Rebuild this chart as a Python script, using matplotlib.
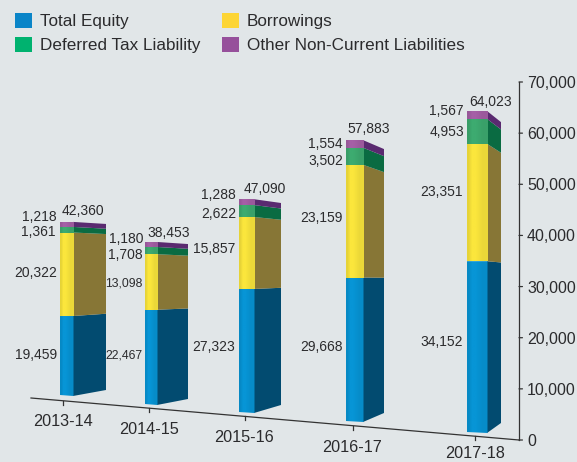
import numpy as np
import matplotlib
matplotlib.use("Agg")
import matplotlib.pyplot as plt
from matplotlib.patches import Patch, Polygon

plt.rcParams['font.family'] = ['Liberation Sans', 'DejaVu Sans']

# Data
YEARS = ["2013-14", "2014-15", "2015-16", "2016-17", "2017-18"]
SERIES = ["Total Equity", "Borrowings", "Deferred Tax Liability", "Other Non-Current Liabilities"]
TOTAL_EQUITY = [19459, 22467, 27323, 29668, 34152]
BORROWINGS = [20322, 13098, 15857, 23159, 23351]
DEFERRED_TAX = [1361, 1708, 2622, 3502, 4953]
OTHER_LIAB = [1218, 1180, 1288, 1554, 1567]
TOTALS = [42360, 38453, 47090, 57883, 64023]
AXIS_TICKS = [0, 10000, 20000, 30000, 40000, 50000, 60000, 70000]

# Colours: legend, front face, side face
LEGEND_COLORS = ["#0a85c8", "#fdd535", "#00b26f", "#96509b"]
FRONT_COLORS = ["#0795d6", "#fbe63c", "#3dab70", "#a55fa6"]
SIDE_COLORS = ["#024b70", "#877636", "#0a6b42", "#5a2a70"]
BG = "#e1e6e8"
TEXT = "#2b2b2d"

# Perspective layout in pixels, one entry per bar
LEFT_X = [60, 145, 239, 346, 467]
MID_X = [73, 157, 254, 363, 487]
RIGHT_X = [106, 188, 281, 384, 501]
FRONT_BASE = [396, 405, 413, 422, 433]
SIDE_BASE = [390, 399, 405, 413, 423]
FRONT_SCALE = [0.00411, 0.00424, 0.00454, 0.00487, 0.00503]
SIDE_SCALE = [0.00392, 0.00403, 0.00429, 0.00456, 0.00470]

# Value label anchors (right edge, centre y), bottom segment first
LABEL_X = [[57, 57, 56, 57], [143, 143, 143, 143], [235, 235, 236, 236],
           [343, 343, 343, 343], [463, 463, 464, 464]]
LABEL_Y = [[355, 273, 232, 217], [355, 283, 255, 239], [347, 249, 214, 195],
           [347, 218, 161, 144], [342, 192, 132, 111]]
# The two labels squeezed in between the first and second bar
LABEL_SIZE = [[10, 10, 10, 10], [8.8, 8.8, 10, 10], [10, 10, 10, 10],
              [10, 10, 10, 10], [10, 10, 10, 10]]
TOTAL_XY = [(83, 211), (169, 233), (265, 189), (369, 129), (491, 102)]
YEAR_XY = [(63, 422), (149, 429), (244, 438), (352, 447), (475, 454)]
TICK_X = [63, 149, 245, 353, 475]
FLOOR = (31, 398, 519, 440)


def face_gradient(color):
    # Front faces are brightest a little left of centre
    rgb = np.array(matplotlib.colors.to_rgb(color))
    shade = np.array([0.92, 1.0, 1.0, 0.97, 0.94, 0.94])
    return np.clip(shade[:, None] * rgb, 0, 1)[None, :, :]


fig = plt.figure(figsize=(5.77, 4.62), dpi=100, facecolor=BG)
ax = fig.add_axes([0, 0, 1, 1])
ax.set_axis_off()

stacks = np.array([TOTAL_EQUITY, BORROWINGS, DEFERRED_TAX, OTHER_LIAB])
tops = np.cumsum(stacks, axis=0)
bottoms = tops - stacks

for i in range(len(YEARS)):
    for s in range(len(SERIES)):
        f0 = FRONT_BASE[i] - FRONT_SCALE[i] * bottoms[s][i]
        f1 = FRONT_BASE[i] - FRONT_SCALE[i] * tops[s][i]
        r0 = SIDE_BASE[i] - SIDE_SCALE[i] * bottoms[s][i]
        r1 = SIDE_BASE[i] - SIDE_SCALE[i] * tops[s][i]

        side = Polygon([(MID_X[i], f0), (RIGHT_X[i], r0), (RIGHT_X[i], r1), (MID_X[i], f1)],
                       closed=True, facecolor=SIDE_COLORS[s], edgecolor='none', zorder=2)
        ax.add_patch(side)

        front = Polygon([(LEFT_X[i], f0 - (1 if s == 0 else 0)), (MID_X[i] + 0.5, f0),
                         (MID_X[i] + 0.5, f1), (LEFT_X[i], f1)],
                        closed=True, facecolor='none', edgecolor='none', zorder=3)
        ax.add_patch(front)
        im = ax.imshow(face_gradient(FRONT_COLORS[s]), extent=(LEFT_X[i], MID_X[i] + 0.5, f0, f1),
                       aspect='auto', interpolation='bilinear', zorder=3)
        im.set_clip_path(front)

    for s in range(len(SERIES)):
        ax.text(LABEL_X[i][s], LABEL_Y[i][s], f"{stacks[s][i]:,}", ha='right', va='center',
                fontsize=LABEL_SIZE[i][s], color=TEXT, zorder=5)
    ax.text(TOTAL_XY[i][0], TOTAL_XY[i][1], f"{TOTALS[i]:,}", ha='center', va='center',
            fontsize=10, color=TEXT)
    ax.text(YEAR_XY[i][0], YEAR_XY[i][1], YEARS[i], ha='center', va='center',
            fontsize=11.7, color=TEXT, clip_on=False)

# Slanted floor line with its ticks
x0, y0, x1, y1 = FLOOR
ax.plot([x0, x1], [y0, y1], color="#333333", lw=0.9, zorder=1)
for tx in TICK_X:
    ty = y0 + (y1 - y0) * (tx - x0) / (x1 - x0)
    ax.plot([tx, tx], [ty, ty + 4], color="#333333", lw=0.9, zorder=1)

ax.set_xlim(0, 577)
ax.set_ylim(462, 0)

handles = [Patch(facecolor=c, edgecolor='none') for c in LEGEND_COLORS]
order = [0, 2, 1, 3]
ax.legend([handles[k] for k in order], [SERIES[k] for k in order], ncol=2, frameon=False,
          loc='upper left', bbox_to_anchor=(15 / 577, 1 - 13 / 462), borderaxespad=0, borderpad=0,
          fontsize=12.3, labelcolor=TEXT, handlelength=1.0, handleheight=1.0,
          handletextpad=0.47, columnspacing=1.25, labelspacing=0.42)

# Value axis on the right
val_ax = fig.add_axes([519 / 577, 22 / 462, 0.05, 358 / 462], facecolor='none')
val_ax.set_ylim(0, 70000)
val_ax.set_xticks([])
for side_name in ['right', 'top', 'bottom']:
    val_ax.spines[side_name].set_visible(False)
val_ax.spines['left'].set_color("#333333")
val_ax.spines['left'].set_linewidth(0.9)
val_ax.yaxis.set_ticks_position('left')
val_ax.set_yticks(AXIS_TICKS)
val_ax.set_yticklabels([f"{t:,}" for t in AXIS_TICKS], fontsize=11.5, color=TEXT, ha='left')
val_ax.tick_params(axis='y', direction='out', length=0, pad=-5.8)
for t in AXIS_TICKS:
    val_ax.annotate('', xy=(0, t), xycoords=('axes fraction', 'data'), xytext=(2.5, 0),
                    textcoords='offset points', arrowprops=dict(arrowstyle='-', color="#333333", lw=0.9, shrinkA=0, shrinkB=0))

fig.savefig('out.png', dpi=100, facecolor=BG)
